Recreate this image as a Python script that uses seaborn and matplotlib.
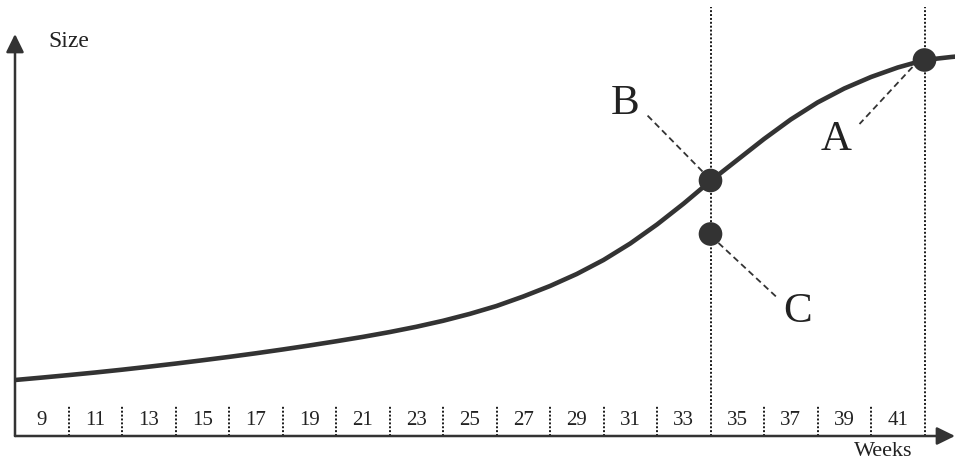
import numpy as np
import pandas as pd
import seaborn as sns
import matplotlib.pyplot as plt

# growth curve (size in arbitrary units)
weeks = list(range(8, 45))
sizes = [56, 58.4, 60.9, 63.5, 66.3, 69.3, 72.4, 75.7, 79.1, 82.7, 86.5, 90.5,
         94.7, 99.1, 103.9, 109.2, 115.2, 122.1, 130, 139.5, 150, 162, 176,
         192.5, 211.5, 232.5, 255, 276, 297, 316.5, 333.5, 347.5, 359, 368.5,
         376, 379, 381.5]

# marked points
point_labels = ["A", "B", "C"]
point_weeks = [42, 34, 34]
point_sizes = [376, 255.5, 202]

week_labels = list(range(9, 42, 2))
separators = [w for w in range(10, 42, 2) if w != 34]
marker_weeks = [34, 42]

INK = "#333333"

sns.set_theme(style="white")
plt.rcParams["font.family"] = ["Liberation Serif", "DejaVu Serif"]

fig = plt.figure(figsize=(9.55, 4.64), dpi=100)
ax = fig.add_axes([15 / 955, 27 / 464, 940 / 955, 437 / 464])
ax.set_xlim(8, 8 + 940 / 26.75)
ax.set_ylim(0, 437)
ax.set_xticks([])
ax.set_yticks([])
sns.despine(ax=ax, left=True, bottom=True)


def offset(pt, dx, dy):
    # shift a data point by screen pixels (dy downwards)
    x, y = ax.transData.transform(pt)
    return ax.transData.inverted().transform((x + dx, y - dy))


# week cells
ax.vlines(separators, 0, 31, colors="#1a1a1a", linestyles=(0, (1, 1)), lw=1.4, zorder=1)
ax.vlines(marker_weeks, 0, 429, colors="#1a1a1a", linestyles=(0, (1, 1)), lw=1.4,
          zorder=1, clip_on=False)
for w in week_labels:
    ax.text(w, 16, str(w), ha="center", va="center", fontsize=15, color="#222222")

# curve and points
df = pd.DataFrame({"week": weeks, "size": sizes})
sns.lineplot(data=df, x="week", y="size", ax=ax, color=INK, lw=3.3, zorder=3)
pts = pd.DataFrame({"label": point_labels, "week": point_weeks, "size": point_sizes})
sns.scatterplot(data=pts, x="week", y="size", ax=ax, color=INK, s=290,
                edgecolor="none", zorder=4)
ax.set_xlabel("")
ax.set_ylabel("")

# leaders and letters
leaders = {"A": ((-12, 7), (-65, 64), (-88, 79)),
           "B": ((-8, -9), (-64, -66), (-85, -78)),
           "C": ((8, 9), (66, 63), (87, 77))}
for lab, w, s in zip(point_labels, point_weeks, point_sizes):
    (a, b, t) = leaders[lab]
    p0 = offset((w, s), *a)
    p1 = offset((w, s), *b)
    ax.plot([p0[0], p1[0]], [p0[1], p1[1]], color=INK, lw=1.3,
            linestyle=(0, (3.5, 2.2)), zorder=2)
    tx, ty = offset((w, s), *t)
    ax.text(tx, ty, lab, ha="center", va="center", fontsize=31, color="#222222")

# axes with arrow heads
arrow = dict(arrowstyle="-|>,head_length=0.55,head_width=0.27", lw=1.8, color=INK,
             mutation_scale=20, shrinkA=0, shrinkB=0)
ax.annotate("", xy=(8, 402), xytext=(8, 0), arrowprops=arrow, annotation_clip=False)
ax.annotate("", xy=(ax.get_xlim()[1], 0), xytext=(8, 0), arrowprops=arrow,
            annotation_clip=False)

sx, sy = offset((8, 0), 33, -395)
ax.text(sx, sy, "Size", ha="left", va="center", fontsize=17, color="#222222")
wx, wy = offset((8, 0), 868, 15)
ax.text(wx, wy, "Weeks", ha="center", va="center", fontsize=16, color="#222222",
        clip_on=False)

fig.savefig("out.png", dpi=100)
